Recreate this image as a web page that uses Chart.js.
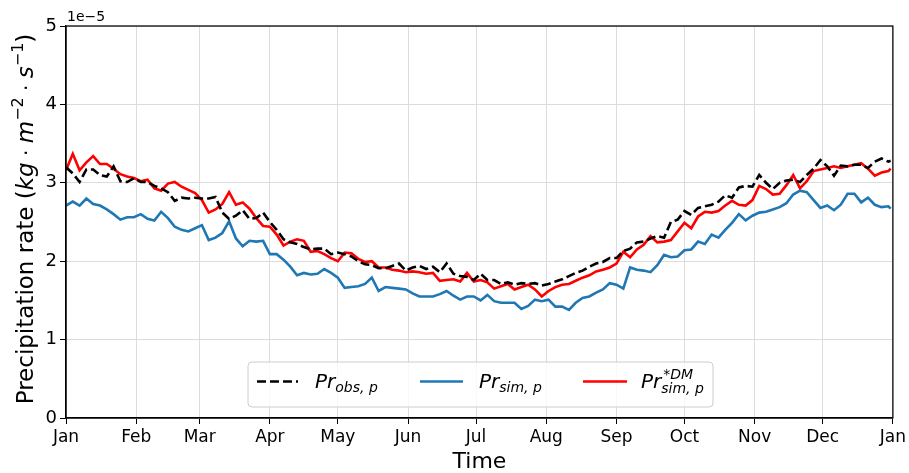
<!DOCTYPE html>
<html><head><meta charset="utf-8">
<script src="https://cdn.jsdelivr.net/npm/chart.js@4"></script>
<style>html,body{margin:0;padding:0;background:#fff}#wrap{width:909px;height:473px;position:relative}</style>
</head><body><div id="wrap"><canvas id="c" width="909" height="473"></canvas></div>
<script>
// ---- data (units of 1e-5 kg m^-2 s^-1), day of year ----
const days = [0,3,6,9,12,15,18,21,24,27,30,33,36,39,42,45,48,51,54,57,60,63,66,69,72,75,78,81,84,87,90,93,96,99,102,105,108,111,114,117,120,123,126,129,132,135,138,141,144,147,150,153,156,159,162,165,168,171,174,177,180,183,186,189,192,195,198,201,204,207,210,213,216,219,222,225,228,231,234,237,240,243,246,249,252,255,258,261,264,267,270,273,276,279,282,285,288,291,294,297,300,303,306,309,312,315,318,321,324,327,330,333,336,339,342,345,348,351,354,357,360,363,364];
const obs = [3.20,3.12,3.01,3.17,3.17,3.10,3.08,3.21,3.02,3.01,
3.06,3.01,3.01,2.96,2.93,2.88,2.77,2.81,2.80,2.81,
2.80,2.80,2.82,2.62,2.54,2.58,2.65,2.54,2.55,2.62,
2.50,2.40,2.28,2.24,2.22,2.18,2.15,2.16,2.16,2.09,
2.11,2.09,2.06,2.00,1.96,1.95,1.91,1.91,1.94,1.97,
1.88,1.92,1.94,1.90,1.93,1.86,1.97,1.84,1.81,1.80,
1.76,1.84,1.76,1.76,1.71,1.73,1.70,1.72,1.71,1.72,
1.69,1.71,1.74,1.77,1.81,1.85,1.88,1.93,1.97,1.99,
2.04,2.04,2.13,2.16,2.24,2.25,2.29,2.32,2.30,2.50,
2.53,2.64,2.59,2.68,2.70,2.72,2.76,2.84,2.81,2.94,
2.96,2.95,3.10,3.00,2.92,3.00,3.03,3.04,3.01,3.10,
3.18,3.29,3.21,3.09,3.22,3.21,3.23,3.23,3.19,3.27,
3.31,3.27,3.28];
const sim = [2.71,2.76,2.71,2.80,2.73,2.71,2.66,2.60,2.53,2.56,
2.56,2.60,2.54,2.52,2.63,2.55,2.44,2.40,2.38,2.42,
2.46,2.27,2.30,2.36,2.51,2.29,2.19,2.26,2.25,2.26,
2.09,2.09,2.02,1.93,1.82,1.85,1.83,1.84,1.90,1.85,
1.79,1.66,1.67,1.68,1.71,1.79,1.62,1.67,1.66,1.65,
1.64,1.59,1.55,1.55,1.55,1.58,1.62,1.56,1.51,1.55,
1.55,1.50,1.57,1.49,1.47,1.47,1.47,1.39,1.43,1.51,
1.49,1.51,1.42,1.42,1.38,1.47,1.53,1.55,1.60,1.64,
1.72,1.70,1.65,1.92,1.89,1.88,1.86,1.95,2.08,2.05,
2.06,2.14,2.15,2.25,2.22,2.34,2.30,2.40,2.49,2.60,
2.52,2.58,2.62,2.63,2.66,2.69,2.74,2.85,2.90,2.88,
2.78,2.68,2.71,2.65,2.72,2.86,2.86,2.75,2.81,2.72,
2.69,2.70,2.67];
const simDM = [3.16,3.37,3.16,3.26,3.34,3.24,3.24,3.18,3.11,3.08,
3.06,3.02,3.04,2.93,2.90,2.99,3.01,2.95,2.91,2.87,
2.78,2.62,2.66,2.73,2.88,2.72,2.75,2.67,2.55,2.45,
2.44,2.34,2.20,2.25,2.28,2.26,2.12,2.13,2.09,2.04,
2.00,2.11,2.10,2.03,1.99,2.00,1.92,1.92,1.89,1.88,
1.86,1.87,1.86,1.84,1.85,1.75,1.76,1.77,1.74,1.85,
1.74,1.76,1.73,1.65,1.68,1.71,1.64,1.67,1.70,1.64,
1.55,1.62,1.67,1.70,1.71,1.75,1.79,1.82,1.87,1.89,
1.92,1.97,2.12,2.05,2.15,2.21,2.32,2.24,2.25,2.27,
2.38,2.49,2.42,2.57,2.63,2.62,2.64,2.71,2.77,2.72,
2.71,2.78,2.96,2.92,2.85,2.86,2.97,3.10,2.93,3.02,
3.15,3.17,3.19,3.21,3.19,3.21,3.23,3.25,3.18,3.09,
3.13,3.15,3.18];
const monthTicks = [0,31,59,90,120,151,181,212,243,273,304,334,365];
const monthLabels = ['Jan','Feb','Mar','Apr','May','Jun','Jul','Aug','Sep','Oct','Nov','Dec','Jan'];
const yTicks = [0,1,2,3,4,5];
const offsetText = '1e\u22125';
const xTitle = 'Time';

const FONT = '"DejaVu Sans", sans-serif';
const toXY = arr => arr.map((v,i)=>({x:days[i], y:v}));

function drawSegs(ctx, segs, x, y, align){
  let total = 0;
  segs.forEach(s=>{ctx.font=(s.it?'italic ':'')+s.size+'px '+FONT; s.w=ctx.measureText(s.t).width; total+=s.w;});
  let cx = align==='center' ? x-total/2 : x;
  segs.forEach(s=>{ctx.font=(s.it?'italic ':'')+s.size+'px '+FONT; ctx.fillText(s.t,cx,y+(s.dy||0)); cx+=s.w;});
  return cx;
}

const deco = {
  id:'deco',
  afterDatasetsDraw(chart){
    const ctx = chart.ctx, a = chart.chartArea;
    ctx.save();
    // frame
    ctx.strokeStyle='#000'; ctx.lineWidth=1.25;
    ctx.strokeRect(a.left, a.top, a.right-a.left, a.bottom-a.top);
    // offset text
    ctx.fillStyle='#000'; ctx.textBaseline='alphabetic'; ctx.textAlign='left';
    ctx.font='14px '+FONT; ctx.fillText(offsetText, a.left+1, a.top-5);
    // x title
    ctx.font='22px '+FONT; ctx.textAlign='center';
    ctx.fillText(xTitle, (a.left+a.right)/2, 468);
    // y title
    ctx.save();
    ctx.translate(33, 219); ctx.rotate(-Math.PI/2); ctx.textAlign='left';
    drawSegs(ctx,[
      {t:'Precipitation rate (',size:23},
      {t:'kg',size:23,it:true},{t:' \u00b7 ',size:20},
      {t:'m',size:23,it:true},{t:'\u22122',size:16,dy:-10},
      {t:' \u00b7 ',size:20},{t:'s',size:23,it:true},{t:'\u22121',size:16,dy:-10},
      {t:')',size:23}], 0, 0, 'center');
    ctx.restore();
    // legend
    const bx=248, by=362, bw=465, bh=45, r=4;
    ctx.beginPath();
    ctx.moveTo(bx+r,by); ctx.lineTo(bx+bw-r,by); ctx.quadraticCurveTo(bx+bw,by,bx+bw,by+r);
    ctx.lineTo(bx+bw,by+bh-r); ctx.quadraticCurveTo(bx+bw,by+bh,bx+bw-r,by+bh);
    ctx.lineTo(bx+r,by+bh); ctx.quadraticCurveTo(bx,by+bh,bx,by+bh-r);
    ctx.lineTo(bx,by+r); ctx.quadraticCurveTo(bx,by,bx+r,by); ctx.closePath();
    ctx.fillStyle='rgba(255,255,255,0.8)'; ctx.fill();
    ctx.strokeStyle='#cccccc'; ctx.lineWidth=1; ctx.stroke();
    const ly = 381.5;
    const sample=(x1,x2,col,dash)=>{ctx.beginPath();ctx.setLineDash(dash);ctx.strokeStyle=col;ctx.lineWidth=2.6;ctx.moveTo(x1,ly);ctx.lineTo(x2,ly);ctx.stroke();ctx.setLineDash([]);};
    sample(257,298,'#000',[9,4]);
    sample(420,463,'#1f77b4',[]);
    sample(583,627,'#ff0000',[]);
    ctx.fillStyle='#000'; ctx.textAlign='left';
    drawSegs(ctx,[{t:'Pr',size:20,it:true},{t:'obs, p',size:14,it:true,dy:4}],315,388);
    drawSegs(ctx,[{t:'Pr',size:20,it:true},{t:'sim, p',size:14,it:true,dy:4}],479,388);
    const ex = drawSegs(ctx,[{t:'Pr',size:20,it:true}],641,388);
    drawSegs(ctx,[{t:'*DM',size:14,it:true}],ex+2,379);
    drawSegs(ctx,[{t:'sim, p',size:14,it:true}],ex,393);
    ctx.restore();
  }
};

new Chart(document.getElementById('c'), {
  type:'line',
  data:{datasets:[
    {label:'obs', data:toXY(obs), borderColor:'#000', borderWidth:2.6, borderDash:[9,4], pointRadius:0, tension:0, order:0},
    {label:'sim', data:toXY(sim), borderColor:'#1f77b4', borderWidth:2.6, pointRadius:0, tension:0, order:2},
    {label:'simDM', data:toXY(simDM), borderColor:'#ff0000', borderWidth:2.6, pointRadius:0, tension:0, order:1}
  ]},
  options:{
    responsive:false, animation:false, devicePixelRatio:1,
    layout:{padding:{left:0,top:26,right:13,bottom:0}},
    plugins:{legend:{display:false}, tooltip:{enabled:false}},
    scales:{
      x:{type:'linear', min:0, max:365,
        afterBuildTicks:s=>{s.ticks=monthTicks.map(v=>({value:v}));},
        afterFit:s=>{s.height=55;},
        grid:{color:'#dcdcdc', lineWidth:1, tickColor:'#000', tickLength:6, drawTicks:true},
        border:{display:true,color:'#000',width:1.25},
        ticks:{autoSkip:false, maxRotation:0, padding:3, color:'#000', font:{family:FONT,size:17},
          callback:(v)=>{const i=monthTicks.indexOf(v);return i>=0?monthLabels[i]:'';}}
      },
      y:{type:'linear', min:0, max:5,
        afterBuildTicks:s=>{s.ticks=yTicks.map(v=>({value:v}));},
        afterFit:s=>{s.width=66;},
        grid:{color:'#dcdcdc', lineWidth:1, tickColor:'#000', tickLength:6},
        border:{display:true,color:'#000',width:1.25},
        ticks:{padding:3, color:'#000', font:{family:FONT,size:18}, callback:v=>String(v)}
      }
    }
  },
  plugins:[deco]
});
</script></body></html>
